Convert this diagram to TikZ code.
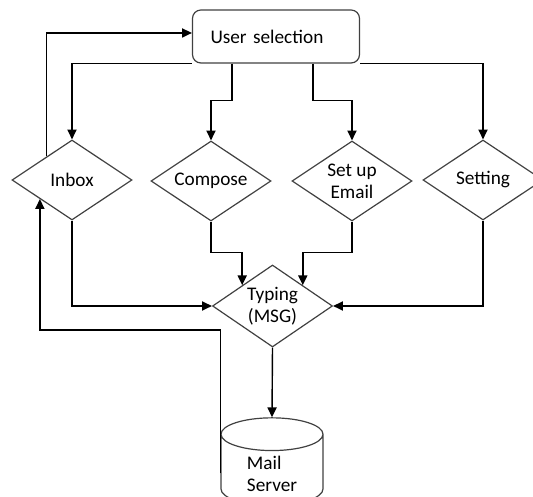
\documentclass[tikz,border=0pt]{standalone}
\usepackage{fontspec}
\setmainfont{Carlito}
\usetikzlibrary{arrows.meta,shapes.geometric,calc}

\begin{document}
\begin{tikzpicture}[
        every node/.style={draw=black!75, line width=.85pt, align=center, font=\fontsize{13.7}{15.5}\selectfont},
        link/.style={->, line width=1pt},
        >={Triangle[length=7pt,width=6.5pt]},
        choice/.style={diamond, aspect=1.5, inner sep=0pt, minimum width=3cm, minimum height=2cm},
        selbox/.style={rounded corners=6pt, minimum width=4.175cm, minimum height=1.325cm, text width=3.275cm, inner xsep=.45cm, align=left},
        store/.style={cylinder, shape border rotate=90, aspect=.55, minimum width=2.55cm, minimum height=2.075cm, align=left}
    ]
    \clip (0,0) rectangle (13.325,-12.425);

    % Nodes
    \node (user) [selbox] at (6.9,-0.9125) {User selection};

    \node (inbox)   [choice] at (1.8,-4.5)     {Inbox};
    \node (compose) [choice] at (5.275,-4.525) {Compose};
    \node (setup)   [choice] at (8.8,-4.525)   {Set up\\ Email};
    \node (setting) [choice] at (12.075,-4.5)  {Setting};

    \node (typing) [choice, minimum height=2.05cm] at (6.8125,-7.65) {Typing\\ (MSG)};

    \node (mail) [store] at (6.8,-11.8375) {Mail\\ Server};

    \coordinate (inboxout) at ($(inbox.west)!0.58!(inbox.north)$);
    \coordinate (inboxin) at ($(inbox.west)!0.47!(inbox.south)$);

    % Edges
    \draw[link] (inboxout) |- ([yshift=2.5pt]user.west);
    \draw[link] (user.south west) -| (inbox.north);
    \draw[link] ([xshift=-1.1cm]user.south) -- ++(0,-0.925) -| (compose.north);
    \draw[link] ([xshift=0.925cm]user.south) -- ++(0,-0.925) -| (setup.north);
    \draw[link] (user.south east) -| (setting.north);

    \draw[link] (inbox.south) |- (typing.west);
    \draw[link] (compose.south) -- ++(0,-0.775) -| (typing.north west);
    \draw[link] (setup.south) -- ++(0,-0.775) -| (typing.north east);
    \draw[link] (setting.south) |- (typing.east);

    \draw[link] (typing.south) -- (mail.north);
    \draw[link] (mail.west) -- ++(0,3.59) -| (inboxin);

\end{tikzpicture}
\end{document}
